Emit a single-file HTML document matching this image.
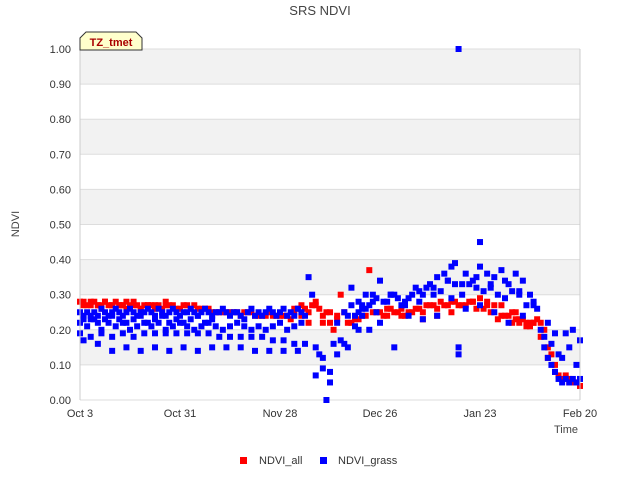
<!DOCTYPE html>
<html><head><meta charset="utf-8"><style>
body{margin:0;background:#fff;font-family:"Liberation Sans",sans-serif}
svg text{font-family:"Liberation Sans",sans-serif}
</style></head><body>
<svg id="c" width="640" height="480">
<text x="320" y="15" text-anchor="middle" font-size="13" fill="#444">SRS NDVI</text>
<g id="grid"></g><g id="pts"></g><g id="axes"></g>
<text x="19" y="224" transform="rotate(-90 19 224)" text-anchor="middle" font-size="11" fill="#444">NDVI</text>
<text x="578" y="433" text-anchor="end" font-size="11" fill="#444">Time</text>
<g><path d="M80,50 L80,38 L86,32 L136,32 L142,38 L142,50 Z" fill="#ffffcc" stroke="#333"/><text x="111" y="46" text-anchor="middle" font-size="11" font-weight="bold" fill="#aa0000">TZ_tmet</text></g>
<g><rect x="240" y="457" width="7" height="7" fill="#f00"/><text x="259" y="464" font-size="11" fill="#333">NDVI_all</text></g>
<g><rect x="320" y="457" width="7" height="7" fill="#00f"/><text x="338" y="464" font-size="11" fill="#333">NDVI_grass</text></g>
</svg>
<script>
const yTicks=[0,0.1,0.2,0.3,0.4,0.5,0.6,0.7,0.8,0.9,1.0];
const xTickDays=[0,28,56,84,112,140];
const xTickLabels=["Oct 3","Oct 31","Nov 28","Dec 26","Jan 23","Feb 20"];
const allDays=[0,1,2,3,4,5,6,7,8,9,10,11,12,13,14,15,16,17,18,19,20,21,22,24,26,28,30,32,34,36,38,40,42,44,46,48,50,52,54,56,58,60,61,62,63,64,65,66,67,68,69,70,71,72,73,74,75,76,78,80,81,82,84,86,88,90,92,94,96,98,100,101,102,104,106,108,110,112,114,116,118,120,121,122,123,124,125,126,127,128,129,130,131,132,133,134,135,136,137,138,139,140,60,62,64,66,68,70,72,86,90,96,100,104,110,114,118,122,126,24,12,6,
1,3,5,7,9,11,13,15,17,19,21,23,25,27,29,31,33,35,37,39,41,43,45,47,49,51,53,55,57,59,
77,79,83,85,87,89,91,93,95,97,99,103,105,107,109,111,113,115,117,119,121,123,125,127,129,131,133,135,137,139];
const allValues=[0.28,0.28,0.27,0.27,0.28,0.27,0.26,0.28,0.27,0.27,0.28,0.27,0.27,0.26,0.27,0.28,0.27,0.26,0.27,0.27,0.27,0.26,0.27,0.27,0.27,0.26,0.27,0.27,0.26,0.26,0.25,0.25,0.25,0.25,0.25,0.25,0.24,0.24,0.24,0.24,0.24,0.25,0.26,0.27,0.26,0.25,0.27,0.28,0.26,0.24,0.25,0.22,0.2,0.24,0.3,0.25,0.22,0.22,0.23,0.24,0.37,0.25,0.25,0.26,0.25,0.24,0.25,0.26,0.25,0.27,0.26,0.28,0.27,0.28,0.27,0.27,0.28,0.29,0.28,0.27,0.27,0.24,0.25,0.23,0.22,0.23,0.22,0.21,0.22,0.23,0.22,0.2,0.15,0.13,0.1,0.07,0.06,0.07,0.06,0.05,0.05,0.04,0.26,0.24,0.22,0.27,0.22,0.25,0.23,0.24,0.26,0.23,0.24,0.25,0.28,0.27,0.24,0.25,0.22,0.28,0.27,0.27,
0.27,0.28,0.27,0.28,0.27,0.27,0.28,0.27,0.26,0.27,0.27,0.26,0.27,0.26,0.27,0.26,0.26,0.26,0.25,0.25,0.25,0.25,0.24,0.25,0.24,0.24,0.25,0.24,0.24,0.23,
0.23,0.24,0.25,0.24,0.26,0.25,0.24,0.25,0.26,0.27,0.27,0.27,0.28,0.27,0.28,0.26,0.26,0.25,0.23,0.24,0.22,0.23,0.21,0.22,0.18,0.12,0.08,0.06,0.05,0.05];
const grassDays=[0,1,2,3,4,5,6,7,8,9,10,11,12,13,14,15,16,17,18,19,20,21,22,23,24,25,26,27,28,29,30,31,32,33,34,35,36,37,38,39,40,41,42,43,44,45,46,47,48,49,50,51,52,53,54,55,56,57,58,59,60,61,62,63,
0,2,4,6,8,10,12,14,16,18,20,22,24,26,28,30,32,34,36,38,40,42,44,46,48,50,52,54,56,58,60,62,
0,3,6,9,12,15,18,21,24,27,30,33,36,39,42,45,48,51,54,57,60,63,
1,5,9,13,17,21,25,29,33,37,41,45,49,53,57,61,
64,65,66,66,67,68,68,69,70,70,71,72,72,73,74,74,75,76,77,78,79,80,81,82,
76,78,80,82,84,86,88,90,92,94,96,98,100,102,104,105,106,106,106,108,110,112,112,114,116,118,120,122,124,126,128,
77,79,81,83,85,87,89,91,93,95,97,99,101,103,105,107,109,111,113,115,117,119,121,123,125,127,
78,84,88,92,96,100,104,108,112,116,120,124,
129,130,131,132,133,134,135,136,137,138,139,140,130,132,134,136,138,140,131,133,135,137,139,
1,3,5,7,9,11,13,15,17,19,21,23,25,27,29,31,33,35,37,
75,79,83,87,91,95,99,103,107,111,115,119,123,127];
const grassValues=[0.25,0.24,0.25,0.23,0.25,0.24,0.26,0.25,0.24,0.25,0.26,0.25,0.24,0.25,0.26,0.25,0.24,0.25,0.25,0.26,0.25,0.24,0.26,0.25,0.24,0.25,0.26,0.25,0.24,0.25,0.25,0.26,0.25,0.24,0.25,0.26,0.25,0.24,0.25,0.25,0.26,0.25,0.24,0.25,0.25,0.24,0.23,0.25,0.26,0.24,0.25,0.24,0.25,0.26,0.25,0.24,0.25,0.26,0.24,0.25,0.24,0.26,0.25,0.24,
0.22,0.21,0.23,0.2,0.22,0.21,0.22,0.2,0.21,0.22,0.21,0.22,0.2,0.21,0.22,0.21,0.2,0.21,0.22,0.21,0.2,0.21,0.22,0.21,0.2,0.21,0.2,0.21,0.22,0.2,0.21,0.22,
0.19,0.18,0.19,0.18,0.19,0.18,0.19,0.19,0.19,0.19,0.19,0.19,0.19,0.18,0.18,0.18,0.18,0.18,0.17,0.17,0.16,0.16,
0.17,0.16,0.14,0.15,0.14,0.15,0.14,0.15,0.14,0.15,0.15,0.15,0.14,0.14,0.14,0.14,
0.35,0.3,0.15,0.07,0.13,0.12,0.09,0.0,0.08,0.05,0.16,0.22,0.13,0.17,0.25,0.16,0.15,0.27,0.21,0.25,0.24,0.3,0.2,0.28,
0.32,0.28,0.26,0.3,0.34,0.28,0.3,0.27,0.29,0.32,0.3,0.33,0.35,0.36,0.38,0.39,1.0,0.15,0.13,0.36,0.34,0.45,0.38,0.36,0.35,0.37,0.33,0.36,0.34,0.3,0.26,
0.24,0.26,0.27,0.25,0.28,0.3,0.29,0.27,0.3,0.28,0.32,0.3,0.31,0.34,0.33,0.3,0.33,0.32,0.31,0.33,0.3,0.29,0.31,0.3,0.27,0.28,
0.2,0.22,0.15,0.24,0.23,0.24,0.29,0.26,0.27,0.25,0.22,0.24,
0.2,0.15,0.12,0.1,0.08,0.06,0.05,0.06,0.05,0.06,0.05,0.06,0.18,0.16,0.13,0.19,0.2,0.17,0.22,0.19,0.12,0.15,0.1,
0.23,0.24,0.22,0.23,0.24,0.23,0.22,0.23,0.24,0.22,0.23,0.24,0.22,0.23,0.22,0.23,0.24,0.22,0.23,
0.24,0.27,0.29,0.3,0.28,0.31,0.32,0.34,0.33,0.35,0.32,0.34,0.31,0.27];
const X0=80,X1=580,Y0=400,Y1=49;
const xs=d=>X0+d*(X1-X0)/140, ys=v=>Y0-v*(Y0-Y1);
const NS="http://www.w3.org/2000/svg";
function mk(t,a,p){const e=document.createElementNS(NS,t);for(const k in a)e.setAttribute(k,a[k]);p.appendChild(e);return e;}
const grid=document.getElementById('grid'),pts=document.getElementById('pts'),axes=document.getElementById('axes');
for(let i=0;i<10;i++){if(i%2===1){const r=mk('rect',{x:X0,y:ys(yTicks[i+1]),width:X1-X0,height:ys(yTicks[i])-ys(yTicks[i+1]),fill:'#f2f2f2'},grid);

}}
yTicks.forEach(v=>{const l=mk('line',{x1:X0,x2:X1,y1:ys(v),y2:ys(v),stroke:'#ddd'},grid);


const t=mk('text',{x:71,y:ys(v)+4,'text-anchor':'end','font-size':11,fill:'#333'},axes);t.textContent=v.toFixed(2);

});
mk('line',{x1:X0,x2:X0,y1:Y1,y2:Y0,stroke:'#ccc'},axes);mk('line',{x1:X1,x2:X1,y1:Y1,y2:Y0,stroke:'#ccc'},axes);
xTickDays.forEach((d,i)=>{const t=mk('text',{x:xs(d),y:417,'text-anchor':'middle','font-size':11,fill:'#333'},axes);t.textContent=xTickLabels[i];

});
allDays.forEach((d,i)=>{const r=mk('rect',{x:xs(d)-3,y:ys(allValues[i])-3,width:6,height:6,fill:'#f00'},pts);

});
grassDays.forEach((d,i)=>{const r=mk('rect',{x:xs(d)-3,y:ys(grassValues[i])-3,width:6,height:6,fill:'#00f'},pts);

});
</script>
</body></html>
